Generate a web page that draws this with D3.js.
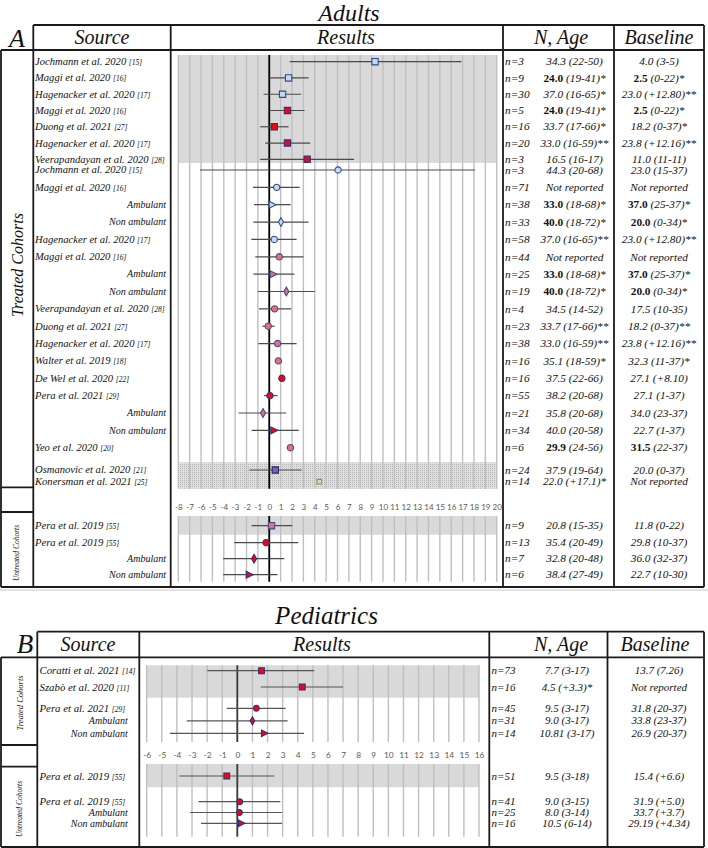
<!DOCTYPE html>
<html><head><meta charset="utf-8">
<script src="https://cdn.jsdelivr.net/npm/d3@7"></script>
<style>body{margin:0;background:#fff}svg{display:block}</style>
</head><body>
<svg id="c" width="708" height="848"></svg>
<script>
// ---------------- ADULTS DATA ----------------
const adultLabels = ["Jochmann et al. 2020","Maggi et al. 2020","Hagenacker et al. 2020","Maggi et al. 2020","Duong et al. 2021","Hagenacker et al. 2020","Veerapandayan et al. 2020","Jochmann et al. 2020","Maggi et al. 2020","Ambulant","Non ambulant","Hagenacker et al. 2020","Maggi et al. 2020","Ambulant","Non ambulant","Veerapandayan et al. 2020","Duong et al. 2021","Hagenacker et al. 2020","Walter et al. 2019","De Wel et al. 2020","Pera et al. 2021","Ambulant","Non ambulant","Yeo et al. 2020","Osmanovic et al. 2020","Konersman et al. 2021","Pera et al. 2019","Pera et al. 2019","Ambulant","Non ambulant"];
const adultRefs = ["[15]","[16]","[17]","[16]","[27]","[17]","[28]","[15]","[16]","","","[17]","[16]","","","[28]","[27]","[17]","[18]","[22]","[29]","","","[20]","[21]","[25]","[55]","[55]","",""];
const adultN = ["n=3","n=9","n=30","n=5","n=16","n=20","n=3","n=3","n=71","n=38","n=33","n=58","n=44","n=25","n=19","n=4","n=23","n=38","n=16","n=16","n=55","n=21","n=34","n=6","n=24","n=14","n=9","n=13","n=7","n=6"];
const adultAge = ["34.3 (22-50)","<b>24.0</b> (19-41)*","37.0 (16-65)*","<b>24.0</b> (19-41)*","33.7 (17-66)*","33.0 (16-59)**","16.5 (16-17)","44.3 (20-68)","Not reported","<b>33.0</b> (18-68)*","<b>40.0</b> (18-72)*","37.0 (16-65)**","Not reported","<b>33.0</b> (18-68)*","<b>40.0</b> (18-72)*","34.5 (14-52)","33.7 (17-66)**","33.0 (16-59)**","35.1 (18-59)*","37.5 (22-66)","38.2 (20-68)","35.8 (20-68)","40.0 (20-58)","<b>29.9</b> (24-56)","37.9 (19-64)","22.0 (+17.1)*","20.8 (15-35)","35.4 (20-49)","32.8 (20-48)","38.4 (27-49)"];
const adultBaseline = ["4.0 (3-5)","<b>2.5</b> (0-22)*","23.0 (+12.80)**","<b>2.5</b> (0-22)*","18.2 (0-37)*","23.8 (+12.16)**","11.0 (11-11)","23.0 (15-37)","Not reported","<b>37.0</b> (25-37)*","<b>20.0</b> (0-34)*","23.0 (+12.80)**","Not reported","<b>37.0</b> (25-37)*","<b>20.0</b> (0-34)*","17.5 (10-35)","18.2 (0-37)**","23.8 (+12.16)**","32.3 (11-37)*","27.1 (+8.10)","27.1 (1-37)","34.0 (23-37)","22.7 (1-37)","<b>31.5</b> (22-37)","20.0 (0-37)","Not reported","11.8 (0-22)","29.8 (10-37)","36.0 (32-37)","22.7 (10-30)"];
const adultEst = [9.3,1.7,1.17,1.6,0.44,1.6,3.33,6.05,0.65,0.27,1.03,0.44,0.88,0.35,1.5,0.47,-0.09,0.73,0.8,1.11,0.06,-0.55,0.42,1.86,0.53,4.4,0.2,-0.28,-1.34,-1.75];
const adultLo = [1.8,0,-0.5,0.05,-0.8,-0.35,-0.8,-6.1,-1.43,-1.34,-1.4,-1.58,-1.23,-1.4,-1.0,-0.9,-0.6,-0.96,null,null,-0.46,-2.7,-1.55,null,-1.75,null,-1.55,-3.08,-4.06,-4.06];
const adultHi = [16.9,3.45,2.8,3.1,1.7,3.6,7.45,18.1,2.67,1.88,3.45,2.4,3.0,2.2,4.0,1.93,0.47,2.4,null,null,0.73,1.5,2.6,null,2.84,null,2.03,2.55,1.32,0.73];
const adultShape = ["sq","sq","sq","sq","sq","sq","sq","ci","ci","tr","di","ci","ci","tr","di","ci","ci","ci","ci","ci","ci","di","tr","ci","sq","sq","sq","ci","di","tr"];
const adultGroup = ["lb","lb","lb","rd","rd","rd","rd","lb","lb","lb","lb","lb","pk","pk","pk","pk","pk","pk","pk","rd","rd","pk","rd","pk","pu","gr","pk","rd","rd","rd"];
const adultBlock = ["t1","t1","t1","t1","t1","t1","t1","t2","t2","t2","t2","t2","t2","t2","t2","t2","t2","t2","t2","t2","t2","t2","t2","t2","t3","t3","u1","u2","u2","u2"];
const adultTicks = d3.range(-8, 21);

// ---------------- PEDIATRICS DATA ----------------
const pedLabels = ["Coratti et al. 2021","Szabò et al. 2020","Pera et al. 2021","Ambulant","Non ambulant","Pera et al. 2019","Pera et al. 2019","Ambulant","Non ambulant"];
const pedRefs = ["[14]","[11]","[29]","","","[55]","[55]","",""];
const pedN = ["n=73","n=16","n=45","n=31","n=14","n=51","n=41","n=25","n=16"];
const pedAge = ["7.7 (3-17)","4.5 (+3.3)*","9.5 (3-17)","9.0 (3-17)","10.81 (3-17)","9.5 (3-18)","9.0 (3-15)","8.0 (3-14)","10.5 (6-14)"];
const pedBaseline = ["13.7 (7.26)","Not reported","31.8 (20-37)","33.8 (23-37)","26.9 (20-37)","15.4 (+6.6)","31.9 (+5.0)","33.7 (+3.7)","29.19 (+4.34)"];
const pedEst = [1.6,4.3,1.26,1.0,1.79,-0.7,0.16,0.14,0.27];
const pedLo = [-1.99,1.55,-0.7,-3.35,-4.46,-3.84,-2.58,-3.13,-2.4];
const pedHi = [5.1,7.0,3.2,3.33,4.42,2.45,2.85,2.96,2.96];
const pedShape = ["sq","sq","ci","di","tr","sq","ci","ci","tr"];
const pedGroup = ["rd","rd","rd","rd","rd","rd","rd","rd","rd"];
const pedBlock = ["t1","t1","t2","t2","t2","u1","u2","u2","u2"];
const pedTicks = d3.range(-6, 17);

// ---------------- STYLES ----------------
const SERIF = "'Liberation Serif','Times New Roman',serif";
const palette = {
  lb:{fill:"#c5d9f1",stroke:"#2f4a8a"},
  rd:{fill:"#ff0000",stroke:"#21378f"},
  pk:{fill:"#f26b6b",stroke:"#3a4f95"},
  pu:{fill:"#7d66a6",stroke:"#1f2a6b"},
  gr:{fill:"#c9e3b6",stroke:"#7f9c6e"}
};
const svg = d3.select("#c");
const defs = svg.append("defs");
const pat = defs.append("pattern").attr("id","hatch").attr("width",2).attr("height",2).attr("patternUnits","userSpaceOnUse");
pat.append("rect").attr("width",2).attr("height",2).attr("fill","#e0e0e0");
pat.append("rect").attr("width",1).attr("height",1).attr("fill","#b4b4b4");

function rich(sel, str){
  str.split(/(<b>.*?<\/b>)/).forEach(p=>{
    if(!p) return;
    const m = p.match(/^<b>(.*)<\/b>$/);
    const ts = sel.append("tspan").text(m ? m[1] : p);
    if(m){ ts.attr("font-weight","bold").attr("font-style","normal"); }
  });
}

function markerPath(shape, size){
  if(shape==="tr"){
    const s=size;
    return `M${-s*0.5},${-s*0.55}L${s*0.6},0L${-s*0.5},${s*0.55}Z`;
  }
  const type = shape==="sq"?d3.symbolSquare:shape==="ci"?d3.symbolCircle:d3.symbolDiamond;
  const area = shape==="sq"?size*size:shape==="ci"?Math.PI*(size/2)*(size/2):size*size*0.55;
  return d3.symbol().type(type).size(area)();
}

function drawPanel(p){
  const g = svg.append("g");
  const x = d3.scaleLinear().domain(p.domain).range(p.xRange);
  const n = p.labels.length;
  const yPos = new Array(n);
  Object.entries(p.blocks).forEach(([k,b])=>{
    const idx = d3.range(n).filter(i=>p.block[i]===k);
    const sp = d3.scalePoint().domain(idx).range([b.first,b.last]).align(0.5);
    idx.forEach(i=>{ yPos[i] = idx.length===1 ? b.first : sp(i); });
  });

  Object.values(p.blocks).forEach(b=>{
    if(!b.fill) return;
    g.append("rect").attr("x",x(p.domain[0])).attr("width",x(p.domain[1])-x(p.domain[0]))
      .attr("y",b.y0).attr("height",b.y1-b.y0)
      .attr("fill", b.fill==="hatch" ? "url(#hatch)" : "#d9d9d9");
  });
  p.grid.forEach(([y0,y1])=>{
    g.append("g").selectAll("line").data(p.ticks).join("line")
      .attr("x1",d=>x(d)).attr("x2",d=>x(d)).attr("y1",y0).attr("y2",y1)
      .attr("stroke","#bfbfbf").attr("stroke-width",1.4);
    g.append("line").attr("x1",x(0)).attr("x2",x(0)).attr("y1",y0).attr("y2",y1)
      .attr("stroke",p.zeroColor).attr("stroke-width",1.8);
  });
  const ax = g.append("g").attr("transform",`translate(0,${p.axisY-3})`)
    .call(d3.axisBottom(x).tickValues(p.ticks).tickSize(0).tickPadding(0).tickFormat(d=>String(d)));
  ax.select(".domain").remove();
  ax.selectAll("text").attr("font-family","Lato,'Liberation Sans',sans-serif").attr("font-size",p.tickSize).attr("fill","#595959");

  const rows = d3.range(n);
  g.append("g").selectAll("line").data(rows.filter(i=>p.lo[i]!==null)).join("line")
    .attr("x1",i=>x(p.lo[i])).attr("x2",i=>x(p.hi[i])).attr("y1",i=>yPos[i]).attr("y2",i=>yPos[i])
    .attr("stroke",p.ciColor).attr("stroke-width",1.2);
  g.append("g").selectAll("path").data(rows).join("path")
    .attr("transform",i=>`translate(${x(p.est[i])},${yPos[i]})`)
    .attr("d",i=>markerPath(p.shape[i], p.group[i]==="gr"?4.6:p.mSize))
    .attr("fill",i=>palette[p.group[i]].fill)
    .attr("stroke",i=>palette[p.group[i]].stroke)
    .attr("stroke-width",1.1);

  const tg = g.append("g").attr("font-family",SERIF).attr("font-style","italic").attr("fill","#111");
  rows.forEach(i=>{
    const y = yPos[i];
    const sub = !p.refs[i];
    if(sub){
      tg.append("text").attr("x",p.subX).attr("y",y+p.subSize*0.33).attr("text-anchor","end")
        .attr("font-size",p.subSize).text(p.labels[i]);
    } else {
      const t = tg.append("text").attr("x",p.labelX).attr("y",y+p.labelSize*0.33).attr("font-size",p.labelSize);
      t.append("tspan").text(p.labels[i]+" ");
      t.append("tspan").attr("font-size",p.refSize).text(p.refs[i]);
    }
    tg.append("text").attr("x",p.nX).attr("y",y+p.valSize*0.33).attr("font-size",p.valSize).text(p.nvals[i]);
    rich(tg.append("text").attr("x",p.ageX).attr("y",y+p.valSize*0.33).attr("font-size",p.valSize).attr("text-anchor","middle"), p.age[i]);
    rich(tg.append("text").attr("x",p.baseX).attr("y",y+p.valSize*0.33).attr("font-size",p.valSize).attr("text-anchor","middle"), p.base[i]);
  });

  const f = p.frame;
  const fg = g.append("g").attr("stroke","#1a1a1a").attr("stroke-width",1.8).attr("fill","none");
  const L = (x1,y1,x2,y2)=>fg.append("line").attr("x1",x1).attr("y1",y1).attr("x2",x2).attr("y2",y2);
  L(f.col,f.top,f.right,f.top);
  L(f.x0,f.hb,f.right,f.hb);
  L(f.x0,f.bottom,f.right,f.bottom);
  L(f.x0,f.hb,f.x0,f.bottom);
  [f.col,f.src,f.res,f.nc,f.right].forEach(xx=>L(xx,f.top,xx,f.bottom));
  f.splits.forEach(yy=>L(f.x0,yy,f.col,yy));

  const hg = g.append("g").attr("font-family",SERIF).attr("font-style","italic").attr("fill","#111");
  hg.append("text").attr("x",p.title.x).attr("y",p.title.y).attr("font-size",p.title.size).attr("text-anchor","middle").text(p.title.text);
  hg.append("text").attr("x",p.letter.x).attr("y",p.letter.y).attr("font-size",p.letter.size).attr("text-anchor","middle").text(p.letter.text);
  p.heads.forEach(h=>hg.append("text").attr("x",h.x).attr("y",f.hb-6.5).attr("font-size",p.headSize).attr("text-anchor","middle").text(h.text));
  p.cohorts.forEach(c=>hg.append("text").attr("transform",`translate(${c.x},${c.y}) rotate(-90)`)
    .attr("font-size",c.size).attr("text-anchor","middle").attr("dy",c.size*0.35).text(c.text));
}

drawPanel({
  labels:adultLabels, refs:adultRefs, nvals:adultN, age:adultAge, base:adultBaseline,
  est:adultEst, lo:adultLo, hi:adultHi, shape:adultShape, group:adultGroup, block:adultBlock, ticks:adultTicks,
  domain:[-8,20], xRange:[178.3,496.7],
  blocks:{
    t1:{y0:55,y1:163,first:61.7,last:159.3,fill:"gray"},
    t2:{y0:163,y1:462.3,first:170,last:447.7},
    t3:{y0:462.3,y1:488.7,first:470,last:481.7,fill:"hatch"},
    u1:{y0:516,y1:534.7,first:525.7,last:525.7,fill:"gray"},
    u2:{y0:534.7,y1:581.7,first:542.7,last:574.7}
  },
  grid:[[55,488.7],[516,581.7]], axisY:507.3, tickSize:8, zeroColor:"#000", ciColor:"#4a4a4a", mSize:6.3,
  labelX:35, subX:166, nX:505, ageX:574.5, baseX:659, labelSize:10.6, refSize:7.5, subSize:10, valSize:11.3,
  frame:{x0:1,col:33.3,src:170.7,res:503,nc:614,right:704,top:25,hb:50,bottom:587,splits:[487.3,512]},
  title:{text:"Adults",x:349,y:20.5,size:24},
  letter:{text:"A",x:17,y:46.5,size:26},
  headSize:20,
  heads:[{text:"Source",x:102},{text:"Results",x:346},{text:"N, Age",x:561},{text:"Baseline",x:659}],
  cohorts:[{text:"Treated Cohorts",x:17,y:265,size:16},{text:"Untreated Cohorts",x:16,y:553,size:7.5}]
});

drawPanel({
  labels:pedLabels, refs:pedRefs, nvals:pedN, age:pedAge, base:pedBaseline,
  est:pedEst, lo:pedLo, hi:pedHi, shape:pedShape, group:pedGroup, block:pedBlock, ticks:pedTicks,
  domain:[-6,16], xRange:[146.7,479],
  blocks:{
    t1:{y0:665.3,y1:697.7,first:670.7,last:687,fill:"gray"},
    t2:{y0:697.7,y1:742,first:708.3,last:733.3},
    u1:{y0:764,y1:787.3,first:776,last:776,fill:"gray"},
    u2:{y0:787.3,y1:836.7,first:801.7,last:823.3}
  },
  grid:[[665.3,742],[764,836.7]], axisY:755, tickSize:8.3, zeroColor:"#3a3a3a", ciColor:"#555", mSize:5.8,
  labelX:39.5, subX:127.7, nX:491.5, ageX:567, baseX:659, labelSize:10.8, refSize:7.5, subSize:10, valSize:11,
  frame:{x0:1,col:37.3,src:139.3,res:489.3,nc:607.5,right:704,top:631.7,hb:657.3,bottom:847,splits:[745,766.7]},
  title:{text:"Pediatrics",x:326.5,y:623.5,size:25},
  letter:{text:"B",x:25,y:653.3,size:27},
  headSize:20,
  heads:[{text:"Source",x:88},{text:"Results",x:322},{text:"N, Age",x:561},{text:"Baseline",x:655}],
  cohorts:[{text:"Treated Cohorts",x:20,y:703,size:8.5},{text:"Untreated Cohorts",x:19,y:809,size:7.5}]
});

svg.append("line").attr("x1",0).attr("x2",708).attr("y1",590).attr("y2",590).attr("stroke","#c8c8c8").attr("stroke-width",1);
</script>
</body></html>
